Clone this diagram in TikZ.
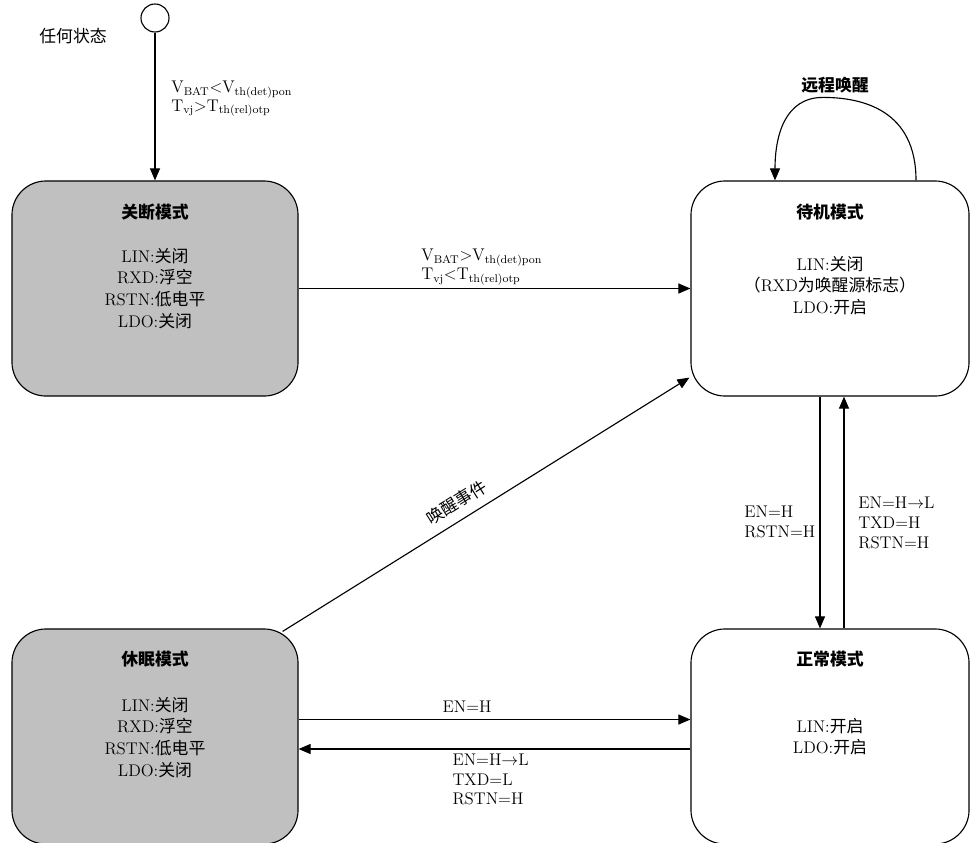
\documentclass[tikz,border=0pt]{standalone}
\usepackage{fontspec}
\newfontfamily\cjk{Noto Sans CJK SC}
\usetikzlibrary{arrows.meta, positioning, calc}
\definecolor{cgray}{HTML}{C0C0C0}
\newcommand{\zh}[1]{{\cjk #1}}
\tikzset{
  every picture/.style={line width=0.8pt, font=\fontsize{12}{15}\selectfont},
  mode/.style={draw=black, fill=#1, rounded corners=0.85cm, minimum height=5.375cm, inner sep=0pt},
  mode/.default=white,
  arrow/.style={-{Triangle[length=3mm, width=2.5mm]}, draw=black},
  title/.style={font=\fontsize{12}{15}\cjk\bfseries},
  lines/.style={align=center, font=\fontsize{12}{15.5}\selectfont},
  cond/.style={align=left, font=\fontsize{12}{14}\selectfont, inner sep=2pt},
}

\begin{document}
\begin{tikzpicture}[x=0.025cm, y=-0.025cm]
  \useasboundingbox (0,0) rectangle (970,842);
  % start point
  \node[draw, circle, minimum size=0.7cm, inner sep=0pt] (any) at (155,18) {};
  \node (anylbl) at (73,36) {\zh{任何状态}};
  % the four modes
  \node[mode=cgray, minimum width=7.15cm] (off) at (155,288.5) {};
  \node[mode, minimum width=6.95cm] (standby) at (830,288.5) {};
  \node[mode=cgray, minimum width=7.15cm] (sleep) at (155,736.5) {};
  \node[mode, minimum width=6.95cm] (normal) at (830,736.5) {};
  \node[title] (offt) at ($(off.north)+(0,32)$) {关断模式};
  \node[title] (standbyt) at ($(standby.north)+(0,32)$) {待机模式};
  \node[title] (sleept) at ($(sleep.north)+(0,31)$) {休眠模式};
  \node[title] (normalt) at ($(normal.north)+(0,31)$) {正常模式};
  \node[lines] (offb) at (off.center) {LIN:\zh{关闭}\\RXD:\zh{浮空}\\RSTN:\zh{低电平}\\LDO:\zh{关闭}};
  \node[lines] (standbyb) at ($(standby.center)+(0,-3)$) {LIN:\zh{关闭}\\\zh{（}RXD\zh{为唤醒源标志）}\\LDO:\zh{开启}};
  \node[lines] (sleepb) at ($(sleep.center)+(0,1)$) {LIN:\zh{关闭}\\RXD:\zh{浮空}\\RSTN:\zh{低电平}\\LDO:\zh{关闭}};
  \node[lines] (normalb) at (normal.center) {LIN:\zh{开启}\\LDO:\zh{开启}};
  % power on / off
  \draw[arrow] (any) -- (off);
  \node[cond, font=\fontsize{12}{13}\selectfont, anchor=west] (c1) at (168,99) {V\textsubscript{BAT}$<$V\textsubscript{th(det)pon}\\T\textsubscript{vj}$>$T\textsubscript{th(rel)otp}};
  \draw[arrow] (off) -- (standby);
  \node[cond, font=\fontsize{12}{13.5}\selectfont, anchor=west] (c2) at (418,267) {V\textsubscript{BAT}$>$V\textsubscript{th(det)pon}\\T\textsubscript{vj}$<$T\textsubscript{th(rel)otp}};
  % remote wake loop
  \coordinate (looptop) at ($(standby.north)+(-7,-83)$);
  \draw[arrow] ($(standby.north)+(86,0)$) .. controls +(0,-70) and +(40,0) .. (looptop)
    .. controls +(-38,0) and +(0,-45) .. ($(standby.north)+(-55,0)$);
  \node[title] (loopl) at (835,85) {远程唤醒};
  % standby <-> normal
  \draw[arrow] ($(standby.south)+(-10,0)$) -- ($(normal.north)+(-10,0)$);
  \draw[arrow] ($(normal.north)+(14,0)$) -- ($(standby.south)+(14,0)$);
  \node[cond, anchor=west] (c3) at (741,522) {EN=H\\RSTN=H};
  \node[cond, anchor=west] (c4) at (855,523) {EN=H$\rightarrow$L\\TXD=H\\RSTN=H};
  % wake event
  \draw[arrow] ($(sleep.north east)+(-16,3)$) -- node[pos=0.45, above=3pt, sloped] {\zh{唤醒事件}} ($(standby.south west)+(-1,-19)$);
  % sleep <-> normal
  \draw[arrow] ($(sleep.east)+(0,-17)$) -- node[pos=0.43, above=1pt] {EN=H} ($(normal.west)+(0,-17)$);
  \draw[arrow] ($(normal.west)+(0,12.5)$) -- node[pos=0.51, below=1pt, cond] {EN=H$\rightarrow$L\\TXD=L\\RSTN=H} ($(sleep.east)+(0,12.5)$);
\end{tikzpicture}
\end{document}
